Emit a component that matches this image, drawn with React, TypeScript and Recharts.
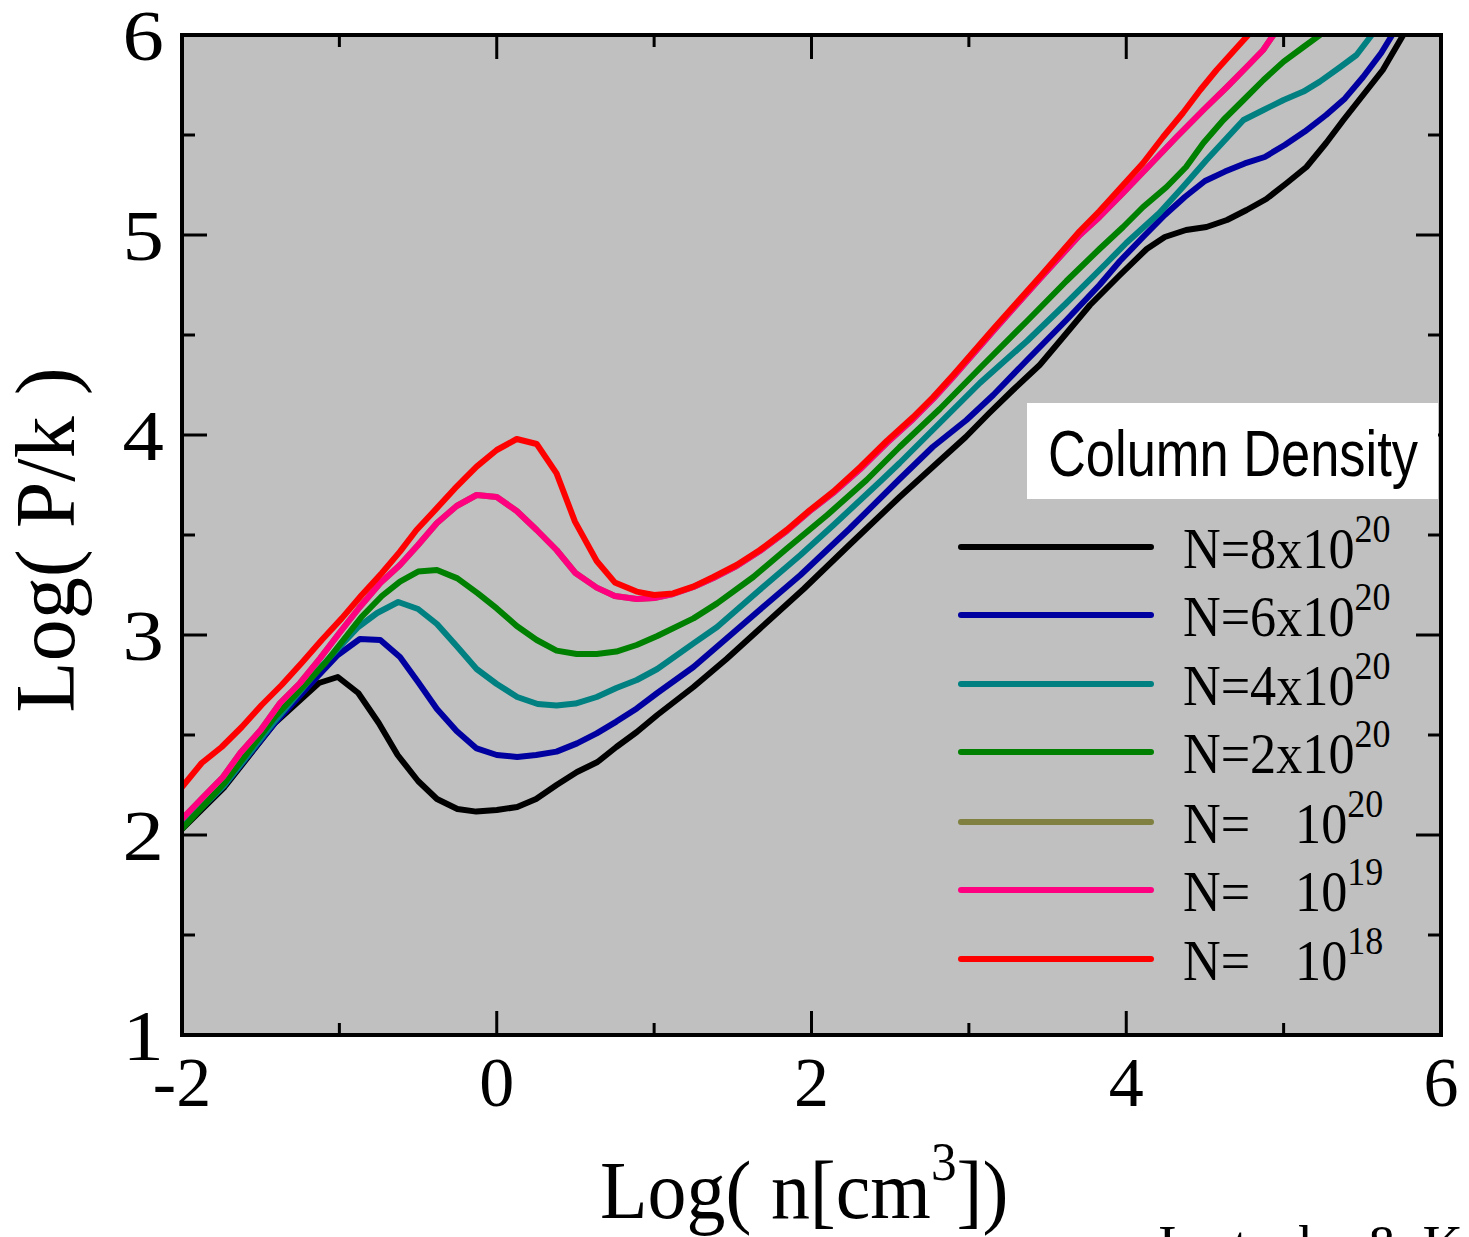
import { LineChart, Line, XAxis, YAxis, CartesianGrid } from 'recharts';

const W = 1469;
const H = 1237;

const X_TICKS = [-2, -1, 0, 1, 2, 3, 4, 5, 6];
const Y_TICKS = [1, 1.5, 2, 2.5, 3, 3.5, 4, 4.5, 5, 5.5, 6];

type Pt = [number, number];

// log n, log P/k  for each column density
const N8E20: Pt[] = [
  [-2, 2.03], [-1.73, 2.24], [-1.41, 2.56], [-1.13, 2.76], [-1.01, 2.79], [-0.88, 2.71],
  [-0.75, 2.56], [-0.63, 2.4], [-0.5, 2.27], [-0.38, 2.18], [-0.25, 2.13], [-0.13, 2.117],
  [0, 2.125], [0.13, 2.14], [0.25, 2.18], [0.38, 2.25], [0.51, 2.315], [0.64, 2.365],
  [0.76, 2.44], [0.89, 2.515], [1.02, 2.6], [1.25, 2.74], [1.46, 2.88], [1.67, 3.03],
  [1.95, 3.23], [2.24, 3.45], [2.56, 3.69], [2.77, 3.84], [2.98, 3.99], [3.13, 4.11],
  [3.28, 4.225], [3.45, 4.35], [3.6, 4.49], [3.77, 4.65], [3.96, 4.8], [4.13, 4.93],
  [4.245, 4.99], [4.38, 5.025], [4.51, 5.04], [4.64, 5.075], [4.765, 5.125], [4.89, 5.18],
  [5.02, 5.26], [5.145, 5.34], [5.27, 5.46], [5.38, 5.575], [5.505, 5.7], [5.63, 5.825],
  [5.76, 6],
];

const N6E20: Pt[] = [
  [-2, 2.04], [-1.73, 2.25], [-1.41, 2.56], [-1.13, 2.8], [-1.01, 2.9], [-0.87, 2.98],
  [-0.74, 2.975], [-0.615, 2.89], [-0.5, 2.765], [-0.38, 2.63], [-0.255, 2.52], [-0.128, 2.433],
  [0, 2.4], [0.13, 2.39], [0.25, 2.4], [0.38, 2.417], [0.51, 2.458], [0.635, 2.508],
  [0.76, 2.567], [0.89, 2.633], [1.02, 2.71], [1.25, 2.84], [1.46, 2.983], [1.67, 3.125],
  [1.93, 3.3], [2.24, 3.53], [2.56, 3.78], [2.77, 3.94], [2.985, 4.075], [3.155, 4.2],
  [3.37, 4.375], [3.62, 4.575], [3.83, 4.75], [3.96, 4.87], [4.107, 4.99], [4.245, 5.1],
  [4.372, 5.19], [4.5, 5.27], [4.627, 5.317], [4.753, 5.358], [4.88, 5.39], [5.007, 5.45],
  [5.134, 5.517], [5.27, 5.6], [5.39, 5.683], [5.505, 5.79], [5.62, 5.91], [5.69, 6],
];

const N4E20: Pt[] = [
  [-2, 2.04], [-1.73, 2.25], [-1.41, 2.57], [-1.13, 2.83], [-0.88, 3.04], [-0.76, 3.11],
  [-0.626, 3.165], [-0.5, 3.13], [-0.38, 3.055], [-0.255, 2.945], [-0.128, 2.83], [0, 2.755],
  [0.13, 2.69], [0.26, 2.655], [0.38, 2.647], [0.5, 2.657], [0.635, 2.69], [0.76, 2.735],
  [0.89, 2.775], [1.02, 2.83], [1.25, 2.958], [1.4, 3.04], [1.67, 3.225], [1.93, 3.4],
  [2.14, 3.55], [2.44, 3.77], [2.56, 3.86], [2.815, 4.06], [3.07, 4.26], [3.37, 4.47],
  [3.62, 4.66], [3.875, 4.86], [4, 4.96], [4.21, 5.11], [4.36, 5.24], [4.51, 5.375],
  [4.745, 5.575], [4.872, 5.625], [5, 5.675], [5.126, 5.717], [5.23, 5.767], [5.36, 5.84],
  [5.463, 5.9], [5.56, 6],
];

const N2E20: Pt[] = [
  [-2, 2.03], [-1.73, 2.26], [-1.41, 2.59], [-1.09, 2.86], [-0.86, 3.09], [-0.73, 3.195],
  [-0.615, 3.267], [-0.5, 3.317], [-0.38, 3.325], [-0.25, 3.283], [-0.12, 3.208], [0, 3.133],
  [0.127, 3.045], [0.254, 2.975], [0.38, 2.922], [0.508, 2.905], [0.635, 2.905], [0.76, 2.917],
  [0.889, 2.95], [1.02, 2.995], [1.25, 3.083], [1.4, 3.158], [1.63, 3.29], [1.84, 3.43],
  [2.1, 3.6], [2.35, 3.775], [2.56, 3.94], [2.815, 4.13], [3.09, 4.35], [3.37, 4.57],
  [3.62, 4.77], [3.83, 4.93], [3.98, 5.04], [4.107, 5.14], [4.256, 5.24], [4.38, 5.34],
  [4.49, 5.46], [4.617, 5.575], [4.745, 5.675], [4.872, 5.775], [5, 5.867], [5.126, 5.94],
  [5.23, 6],
];

// hidden underneath the 10^19 curve in the original
const N1E20: Pt[] = [
  [-2, 2.08], [-1.865, 2.19], [-1.74, 2.29], [-1.63, 2.41], [-1.5, 2.525], [-1.377, 2.66],
  [-1.25, 2.76], [-1.123, 2.883], [-1, 3.01], [-0.87, 3.14], [-0.74, 3.26], [-0.615, 3.35],
  [-0.5, 3.45], [-0.38, 3.56], [-0.255, 3.645], [-0.128, 3.7], [0, 3.69], [0.127, 3.62],
  [0.254, 3.525], [0.38, 3.425], [0.5, 3.31], [0.635, 3.237], [0.75, 3.195], [0.889, 3.18],
  [1, 3.185], [1.12, 3.205], [1.25, 3.24], [1.376, 3.285], [1.524, 3.345], [1.672, 3.42],
  [1.842, 3.52], [1.99, 3.62], [2.138, 3.71], [2.31, 3.83], [2.478, 3.96], [2.646, 4.08],
  [2.773, 4.18], [2.9, 4.29], [3.155, 4.52], [3.45, 4.78], [3.705, 5.0], [3.83, 5.09],
  [3.98, 5.21], [4.15, 5.35], [4.32, 5.49], [4.49, 5.625], [4.64, 5.74], [4.765, 5.84],
  [4.87, 5.925], [4.935, 6],
];

const N1E19: Pt[] = [
  [-2, 2.08], [-1.865, 2.19], [-1.74, 2.29], [-1.63, 2.41], [-1.5, 2.525], [-1.377, 2.66],
  [-1.25, 2.76], [-1.123, 2.883], [-1, 3.01], [-0.87, 3.14], [-0.74, 3.26], [-0.615, 3.35],
  [-0.5, 3.45], [-0.38, 3.56], [-0.255, 3.645], [-0.128, 3.7], [0, 3.69], [0.127, 3.62],
  [0.254, 3.525], [0.38, 3.425], [0.5, 3.31], [0.635, 3.237], [0.75, 3.195], [0.889, 3.18],
  [1, 3.185], [1.12, 3.205], [1.25, 3.24], [1.376, 3.285], [1.524, 3.345], [1.672, 3.42],
  [1.842, 3.52], [1.99, 3.62], [2.138, 3.71], [2.31, 3.83], [2.478, 3.96], [2.646, 4.08],
  [2.773, 4.18], [2.9, 4.29], [3.155, 4.52], [3.45, 4.78], [3.705, 5.0], [3.83, 5.09],
  [3.98, 5.21], [4.15, 5.35], [4.32, 5.49], [4.49, 5.625], [4.64, 5.74], [4.765, 5.84],
  [4.87, 5.925], [4.935, 6],
];

const N1E18: Pt[] = [
  [-2, 2.24], [-1.875, 2.36], [-1.748, 2.44], [-1.62, 2.54], [-1.494, 2.65], [-1.367, 2.75],
  [-1.24, 2.86], [-1.112, 2.975], [-0.985, 3.083], [-0.858, 3.2], [-0.73, 3.31], [-0.615, 3.417],
  [-0.51, 3.525], [-0.382, 3.633], [-0.266, 3.733], [-0.128, 3.842], [0, 3.925], [0.127, 3.98],
  [0.254, 3.955], [0.38, 3.808], [0.497, 3.567], [0.635, 3.37], [0.75, 3.263], [0.889, 3.217],
  [1, 3.2], [1.12, 3.208], [1.248, 3.242], [1.376, 3.29], [1.524, 3.35], [1.672, 3.425],
  [1.842, 3.525], [1.99, 3.625], [2.138, 3.717], [2.31, 3.84], [2.478, 3.97], [2.646, 4.09],
  [2.773, 4.19], [2.9, 4.3], [3.155, 4.53], [3.45, 4.79], [3.705, 5.02], [3.83, 5.12],
  [3.98, 5.25], [4.107, 5.36], [4.234, 5.49], [4.36, 5.61], [4.47, 5.725], [4.574, 5.825],
  [4.68, 5.917], [4.775, 6],
];

const SERIES = [
  { id: 'n8e20', mant: '8x', exp: '20', color: '#000000', pts: N8E20 },
  { id: 'n6e20', mant: '6x', exp: '20', color: '#0000a0', pts: N6E20 },
  { id: 'n4e20', mant: '4x', exp: '20', color: '#008080', pts: N4E20 },
  { id: 'n2e20', mant: '2x', exp: '20', color: '#008000', pts: N2E20 },
  { id: 'n1e20', mant: '', exp: '20', color: '#808040', pts: N1E20 },
  { id: 'n1e19', mant: '', exp: '19', color: '#ff0080', pts: N1E19 },
  { id: 'n1e18', mant: '', exp: '18', color: '#ff0000', pts: N1E18 },
];

const SERIF = "'Liberation Serif', 'Times New Roman', serif";

function BottomTick({ x, y, payload }: any) {
  const v = payload.value;
  const major = v % 2 === 0;
  return (
    <g>
      <line x1={x} x2={x} y1={y} y2={y - (major ? 24 : 12)} stroke="#000" strokeWidth={3} />
      {major && (
        <text x={x} y={y + 71} textAnchor="middle" fontFamily={SERIF} fontSize={70} fill="#000">
          {v}
        </text>
      )}
    </g>
  );
}

function TopTick({ x, y, payload }: any) {
  const major = payload.value % 2 === 0;
  return <line x1={x} x2={x} y1={y} y2={y + (major ? 24 : 12)} stroke="#000" strokeWidth={3} />;
}

function LeftTick({ x, y, payload }: any) {
  const v = payload.value;
  const major = Number.isInteger(v);
  return (
    <g>
      <line x1={x} x2={x + (major ? 25 : 13)} y1={y} y2={y} stroke="#000" strokeWidth={3} />
      {major && (
        <text
          transform={`translate(${x - 18},${y + 25}) scale(1.15,1)`}
          textAnchor="end"
          fontFamily={SERIF}
          fontSize={72}
          fill="#000"
        >
          {v}
        </text>
      )}
    </g>
  );
}

function RightTick({ x, y, payload }: any) {
  const major = Number.isInteger(payload.value);
  return <line x1={x} x2={x - (major ? 25 : 13)} y1={y} y2={y} stroke="#000" strokeWidth={3} />;
}

const axisLine = { stroke: '#000', strokeWidth: 4, strokeLinecap: 'square' as const };

function Overlay() {
  const rowY = [547, 615, 684, 752, 822, 890, 959];
  return (
    <svg
      width={W}
      height={H}
      style={{ position: 'absolute', left: 0, top: 0, pointerEvents: 'none' }}
    >
      {/* y title */}
      <text
        transform="translate(74,540) rotate(-90)"
        textAnchor="middle"
        fontFamily={SERIF}
        fontSize={84}
        fill="#000"
      >
        Log( P/k )
      </text>
      {/* x title */}
      <text
        transform="translate(600,1218) scale(0.95,1)"
        fontFamily={SERIF}
        fontSize={82}
        fill="#000"
      >
        Log( n[cm<tspan dy={-38} fontSize={54}>3</tspan>
        <tspan dy={38}>])</tspan>
      </text>
      <text x={1158} y={1265} fontFamily={SERIF} fontSize={56} fill="#000">
        Inutsuka &amp; Koyama
      </text>

      {/* legend */}
      <rect x={1027} y={403} width={411} height={96} fill="#fff" />
      <text
        x={1048}
        y={476}
        fontFamily="'Liberation Sans Narrow', 'Liberation Sans', sans-serif"
        fontSize={64}
        textLength={370}
        lengthAdjust="spacingAndGlyphs"
        fill="#000"
      >
        Column Density
      </text>
      {SERIES.map((s, i) => (
        <g key={s.id}>
          <line
            x1={961}
            x2={1151}
            y1={rowY[i]}
            y2={rowY[i]}
            stroke={s.color}
            strokeWidth={6}
            strokeLinecap="round"
          />
          <text
            transform={`translate(1183,${rowY[i] + 21}) scale(0.9,1)`}
            fontFamily={SERIF}
            fontSize={58}
            fill="#000"
          >
            {s.mant ? `N=${s.mant}` : 'N='}
            <tspan dx={s.mant ? 0 : 50}>10</tspan>
            <tspan dy={-26} fontSize={40}>
              {s.exp}
            </tspan>
          </text>
        </g>
      ))}
    </svg>
  );
}

export default function App() {
  return (
    <div style={{ position: 'absolute', left: 0, top: 0, width: W, height: H, background: '#fff' }}>
      <LineChart width={W} height={H} margin={{ top: 0, right: 0, bottom: 0, left: 0 }}>
        <CartesianGrid
          xAxisId="b"
          yAxisId="l"
          fill="#c0c0c0"
          horizontal={false}
          vertical={false}
          stroke="none"
        />
        <XAxis
          xAxisId="b"
          dataKey="x"
          type="number"
          domain={[-2, 6]}
          ticks={X_TICKS}
          interval={0}
          height={202}
          tickSize={0}
          tickMargin={0}
          tickLine={false}
          axisLine={axisLine}
          tick={<BottomTick />}
          allowDataOverflow
        />
        <XAxis
          xAxisId="t"
          orientation="top"
          dataKey="x"
          type="number"
          domain={[-2, 6]}
          ticks={X_TICKS}
          interval={0}
          height={35}
          tickSize={0}
          tickMargin={0}
          tickLine={false}
          axisLine={axisLine}
          tick={<TopTick />}
          allowDataOverflow
        />
        <YAxis
          yAxisId="l"
          type="number"
          domain={[1, 6]}
          ticks={Y_TICKS}
          interval={0}
          width={182}
          tickSize={0}
          tickMargin={0}
          tickLine={false}
          axisLine={axisLine}
          tick={<LeftTick />}
          allowDataOverflow
        />
        <YAxis
          yAxisId="r"
          orientation="right"
          type="number"
          domain={[1, 6]}
          ticks={Y_TICKS}
          interval={0}
          width={28}
          tickSize={0}
          tickMargin={0}
          tickLine={false}
          axisLine={axisLine}
          tick={<RightTick />}
          allowDataOverflow
        />
        {SERIES.map((s) => (
          <Line
            key={s.id}
            xAxisId="b"
            yAxisId="l"
            data={s.pts.map(([x, y]) => ({ x, y }))}
            dataKey="y"
            type="linear"
            stroke={s.color}
            strokeWidth={6}
            strokeLinejoin="round"
            strokeLinecap="round"
            dot={false}
            activeDot={false}
            isAnimationActive={false}
          />
        ))}
      </LineChart>
      <Overlay />
    </div>
  );
}
